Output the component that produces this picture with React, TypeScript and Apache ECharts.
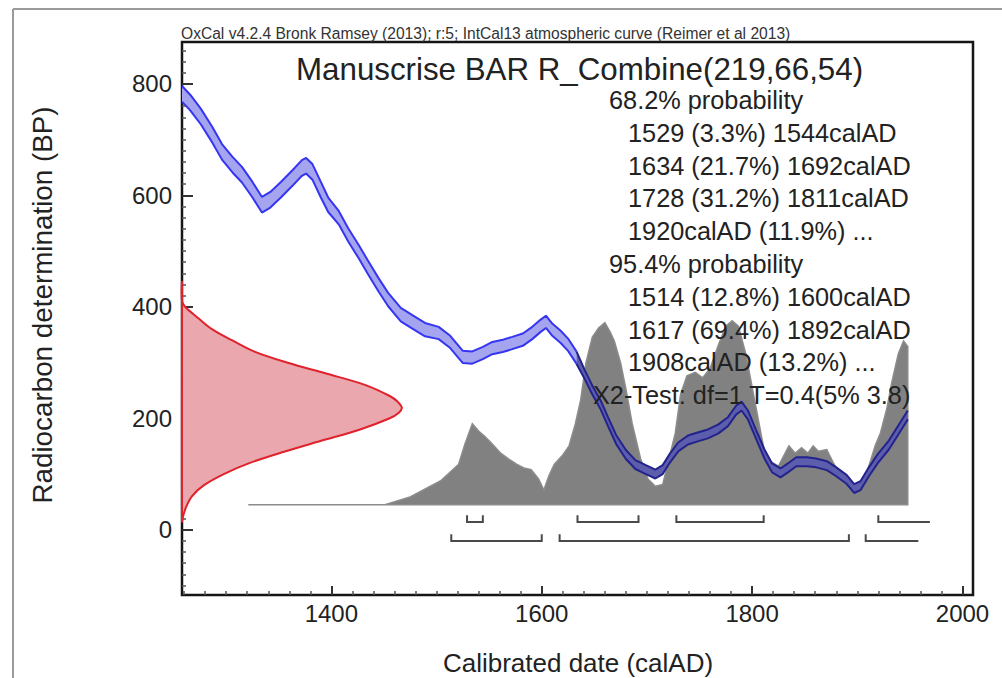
import React, { useEffect, useRef } from "react";
import * as echarts from "echarts";

// ---- axis ranges (calAD, BP) ----
const xMin = 1258;
const xMax = 2010;
const yMin = -117;
const yMax = 875;
const xMajorTicks = [1400, 1600, 1800, 2000];
const yMajorTicks = [0, 200, 400, 600, 800];
const xMinorTicks = [1260, 1280, 1300, 1320, 1340, 1360, 1380, 1400, 1420, 1440, 1460, 1480, 1500, 1520, 1540, 1560, 1580, 1600, 1620, 1640, 1660, 1680, 1700, 1720, 1740, 1760, 1780, 1800, 1820, 1840, 1860, 1880, 1900, 1920, 1940, 1960, 1980, 2000];
const yMinorTicks = [-100, -80, -60, -40, -20, 0, 20, 40, 60, 80, 100, 120, 140, 160, 180, 200, 220, 240, 260, 280, 300, 320, 340, 360, 380, 400, 420, 440, 460, 480, 500, 520, 540, 560, 580, 600, 620, 640, 660, 680, 700, 720, 740, 760, 780, 800, 820, 840, 860];

// ---- IntCal13 calibration curve ----
const curveYears = [1258, 1266, 1276, 1287, 1296, 1306, 1315, 1325, 1334, 1342, 1352, 1363, 1372, 1376, 1382, 1390, 1397, 1407, 1416, 1426, 1435, 1445, 1454, 1466, 1477, 1489, 1502, 1513, 1525, 1534, 1544, 1553, 1563, 1572, 1582, 1591, 1599, 1604, 1610, 1618, 1625, 1633, 1641, 1648, 1656, 1663, 1671, 1680, 1689, 1699, 1708, 1715, 1722, 1730, 1739, 1749, 1758, 1768, 1777, 1785, 1790, 1796, 1804, 1812, 1819, 1827, 1834, 1842, 1852, 1861, 1871, 1880, 1890, 1897, 1903, 1911, 1920, 1930, 1939, 1948];
const curveBP = [782, 766, 741, 708, 678, 655, 637, 610, 583, 592, 610, 631, 649, 653, 642, 610, 583, 560, 529, 499, 470, 439, 413, 386, 373, 359, 353, 337, 310, 309, 317, 326, 330, 335, 341, 353, 366, 373, 359, 346, 332, 309, 278, 251, 224, 194, 161, 135, 117, 108, 100, 108, 129, 149, 161, 167, 172, 181, 194, 215, 222, 206, 170, 135, 111, 102, 111, 122, 122, 120, 115, 104, 90, 74, 79, 104, 129, 152, 179, 206];
const curveErr = [14, 14, 14, 14, 14, 14, 14, 14, 14, 14, 14, 14, 14, 14, 14, 14, 13, 12, 12, 12, 12, 12, 12, 12, 12, 12, 11, 11, 11, 11, 11, 11, 11, 11, 11, 11, 11, 11, 11, 11, 11, 11, 8, 8, 8, 8, 8, 8, 8, 8, 8, 8, 8, 8, 8, 8, 8, 8, 8, 8, 8, 8, 8, 8, 8, 8, 8, 8, 8, 8, 8, 8, 8, 8, 8, 8, 8, 8, 8, 8];
const darkFromYear = 1633;

// ---- measured radiocarbon date (R_Combine 219) ----
const redBP = [443, 410, 400, 380, 360, 340, 320, 300, 280, 260, 240, 230, 219, 210, 200, 180, 160, 140, 120, 100, 80, 60, 40, 20, 15];
const redDensity = [0, 0, 0.014, 0.073, 0.136, 0.227, 0.327, 0.477, 0.659, 0.832, 0.945, 0.98, 1, 0.986, 0.945, 0.81, 0.636, 0.464, 0.309, 0.19, 0.1, 0.045, 0.018, 0.002, 0];

// ---- calibrated probability distribution ----
const grayYears = [1321, 1451, 1474, 1504, 1521, 1527, 1534, 1540, 1546, 1553, 1561, 1568, 1576, 1583, 1590, 1597, 1602, 1607, 1612, 1620, 1626, 1632, 1637, 1642, 1648, 1654, 1660, 1665, 1669, 1675, 1680, 1686, 1694, 1701, 1708, 1715, 1721, 1727, 1732, 1738, 1746, 1753, 1760, 1768, 1775, 1781, 1787, 1794, 1799, 1807, 1813, 1825, 1835, 1841, 1847, 1853, 1858, 1863, 1871, 1877, 1883, 1889, 1895, 1901, 1907, 1911, 1917, 1922, 1928, 1933, 1939, 1944, 1948];
const grayProb = [0, 0, 0.04, 0.13, 0.22, 0.33, 0.44, 0.40, 0.37, 0.33, 0.28, 0.25, 0.22, 0.20, 0.19, 0.14, 0.08, 0.16, 0.22, 0.27, 0.32, 0.44, 0.57, 0.77, 0.91, 0.96, 0.99, 0.94, 0.89, 0.77, 0.63, 0.44, 0.25, 0.14, 0.10, 0.11, 0.25, 0.39, 0.60, 0.70, 0.72, 0.69, 0.74, 0.87, 0.97, 1.0, 0.97, 0.82, 0.67, 0.43, 0.25, 0.21, 0.32, 0.28, 0.31, 0.28, 0.32, 0.29, 0.30, 0.23, 0.17, 0.12, 0.08, 0.07, 0.14, 0.21, 0.32, 0.39, 0.52, 0.67, 0.82, 0.89, 0.86];

// ---- ranges: [from, to, closed end] ----
const ranges68 = [[1529, 1544, 1], [1634, 1692, 1], [1728, 1811, 1], [1920, 1969, 0]];
const ranges95 = [[1514, 1600, 1], [1617, 1892, 1], [1908, 1958, 0]];

// ---- texts ----
const headerText = "OxCal v4.2.4 Bronk Ramsey (2013); r:5; IntCal13 atmospheric curve (Reimer et al 2013)";
const titleText = "Manuscrise BAR R_Combine(219,66,54)";
const resultLines = [
  "68.2% probability",
  "  1529 (3.3%) 1544calAD",
  "  1634 (21.7%) 1692calAD",
  "  1728 (31.2%) 1811calAD",
  "  1920calAD (11.9%) ...",
  "95.4% probability",
  "  1514 (12.8%) 1600calAD",
  "  1617 (69.4%) 1892calAD",
  "  1908calAD (13.2%) ...",
  "X2-Test: df=1 T=0.4(5% 3.8)",
];
const xTitle = "Calibrated date (calAD)";
const yTitle = "Radiocarbon determination (BP)";

// layout constants
const GRAY_BASE = 45;
const GRAY_HEIGHT = 330;
const RED_WIDTH = 209;
const FONT = "'Liberation Sans', Arial, sans-serif";

export default function App() {
  const ref = useRef<HTMLDivElement>(null);
  useEffect(() => {
    if (!ref.current) return;
    const chart = echarts.init(ref.current, undefined, { renderer: "svg" });

    const splitIdx = curveYears.findIndex((y) => y >= darkFromYear);
    const upper = curveYears.map((y, i) => [y, curveBP[i] + curveErr[i]]);
    const lower = curveYears.map((y, i) => [y, curveBP[i] - curveErr[i]]);
    const segs = [
      { from: 0, to: splitIdx + 1, line: "#3535f2", fill: "#a4a4ef" },
      { from: splitIdx, to: curveYears.length, line: "#23238c", fill: "#5d5dae" },
    ];

    const series: any[] = [];

    // gray calibrated distribution
    series.push({
      type: "custom",
      silent: true,
      clip: false,
      z: 1,
      data: [[xMin, 0]],
      renderItem: (_p: any, api: any) => {
        const pts = grayYears.map((y, i) => api.coord([y, GRAY_BASE + grayProb[i] * GRAY_HEIGHT]));
        pts.push(api.coord([grayYears[grayYears.length - 1], GRAY_BASE]));
        pts.push(api.coord([grayYears[0], GRAY_BASE]));
        return {
          type: "polygon",
          shape: { points: pts },
          style: { fill: "#818181", stroke: "#8c8c8c", lineWidth: 1.5 },
        };
      },
    });

    // red radiocarbon date
    series.push({
      type: "custom",
      silent: true,
      clip: false,
      z: 2,
      data: [[xMin, 0]],
      renderItem: (_p: any, api: any) => {
        const pts = redBP.map((b, i) => api.coord([xMin + redDensity[i] * RED_WIDTH, b]));
        return {
          type: "polygon",
          shape: { points: pts, smooth: 0.35 },
          style: { fill: "#eaa7ad", stroke: "#e0222c", lineWidth: 2 },
        };
      },
    });

    // blue calibration band
    segs.forEach((s, k) => {
      series.push({
        type: "custom",
        silent: true,
        clip: false,
        z: 3,
        data: [[xMin, 0]],
        renderItem: (_p: any, api: any) => {
          const up = upper.slice(s.from, s.to).map((d) => api.coord(d));
          const lo = lower.slice(s.from, s.to).map((d) => api.coord(d)).reverse();
          return {
            type: "polygon",
            shape: { points: up.concat(lo) },
            style: { fill: s.fill, stroke: "none" },
          };
        },
      });
      [upper, lower].forEach((arr, j) => {
        series.push({
          type: "line",
          name: `curve${k}${j}`,
          data: arr.slice(s.from, s.to),
          symbol: "none",
          z: 4,
          silent: true,
          lineStyle: { color: s.line, width: 2 },
        });
      });
    });

    // range brackets
    const bracketSeries = (ranges: number[][], lineBP: number, topBP: number) => ({
      type: "custom",
      silent: true,
      clip: false,
      z: 5,
      data: [[xMin, 0]],
      renderItem: (_p: any, api: any) => ({
        type: "group",
        children: ranges.map((r) => {
          const pts = [
            api.coord([r[0], topBP]),
            api.coord([r[0], lineBP]),
            api.coord([r[1], lineBP]),
          ];
          if (r[2]) pts.push(api.coord([r[1], topBP]));
          return {
            type: "polyline",
            shape: { points: pts },
            style: { stroke: "#4a4a4a", lineWidth: 2, fill: "none" },
          };
        }),
      }),
    });
    series.push(bracketSeries(ranges68, 14, 26));
    series.push(bracketSeries(ranges95, -20, -8));

    const textEls: any[] = [];
    textEls.push({
      type: "text",
      x: 181,
      y: 33,
      style: { text: headerText, font: `15.6px ${FONT}`, fill: "#333", textVerticalAlign: "middle" },
    });
    textEls.push({
      type: "text",
      x: 296,
      y: 69,
      style: { text: titleText, font: `31.3px ${FONT}`, fill: "#222", textVerticalAlign: "middle" },
    });
    resultLines.forEach((t, i) => {
      const isX2 = t.startsWith("X2");
      const indent = t.startsWith("  ");
      textEls.push({
        type: "text",
        x: isX2 ? 593 : indent ? 628 : 609,
        y: 100 + i * 32.8,
        z: 100,
        style: { text: t.trim(), font: `25.3px ${FONT}`, fill: "#222", textVerticalAlign: "middle" },
      });
    });
    textEls.push({
      type: "text",
      x: 578,
      y: 663,
      style: { text: xTitle, font: `26px ${FONT}`, fill: "#222", textAlign: "center", textVerticalAlign: "middle" },
    });
    textEls.push({
      type: "text",
      x: 42,
      y: 305,
      rotation: Math.PI / 2,
      style: { text: yTitle, font: `27.8px ${FONT}`, fill: "#222", textAlign: "center", textVerticalAlign: "middle" },
    });
    // page frame
    textEls.push({ type: "line", shape: { x1: 13, y1: 9, x2: 1002, y2: 9 }, style: { stroke: "#9a9a9a", lineWidth: 2 } });
    textEls.push({ type: "line", shape: { x1: 13, y1: 9, x2: 13, y2: 678 }, style: { stroke: "#9a9a9a", lineWidth: 2 } });

    const labelStyle = { fontSize: 24, fontFamily: FONT, color: "#222", formatter: (v: number) => String(v) };

    chart.setOption({
      animation: false,
      backgroundColor: "#fff",
      grid: {
        left: 182,
        right: 29,
        top: 42,
        bottom: 83,
        show: true,
        borderColor: "#151515",
        borderWidth: 2.5,
        backgroundColor: "transparent",
      },
      xAxis: [
        {
          type: "value",
          min: xMin,
          max: xMax,
          position: "bottom",
          axisLine: { show: false, onZero: false },
          splitLine: { show: false },
          axisTick: { show: true, inside: true, length: 4, customValues: xMinorTicks, lineStyle: { color: "#555", width: 1.5 } },
          axisLabel: { show: true, customValues: xMajorTicks, margin: 6, ...labelStyle },
        },
        {
          type: "value",
          min: xMin,
          max: xMax,
          position: "bottom",
          offset: 0,
          axisLine: { show: false, onZero: false },
          splitLine: { show: false },
          axisTick: { show: true, inside: true, length: 9, customValues: xMajorTicks, lineStyle: { color: "#333", width: 2 } },
          axisLabel: { show: false },
        },
      ],
      yAxis: [
        {
          type: "value",
          min: yMin,
          max: yMax,
          position: "left",
          axisLine: { show: false, onZero: false },
          splitLine: { show: false },
          axisTick: { show: true, inside: true, length: 4, customValues: yMinorTicks, lineStyle: { color: "#555", width: 1.5 } },
          axisLabel: { show: true, customValues: yMajorTicks, margin: 10, ...labelStyle },
        },
        {
          type: "value",
          min: yMin,
          max: yMax,
          position: "left",
          offset: 0,
          axisLine: { show: false, onZero: false },
          splitLine: { show: false },
          axisTick: { show: true, inside: true, length: 11, customValues: yMajorTicks, lineStyle: { color: "#333", width: 2 } },
          axisLabel: { show: false },
        },
      ],
      series,
      graphic: { elements: textEls },
    });
    return () => chart.dispose();
  }, []);

  return (
    <div
      ref={ref}
      style={{ position: "fixed", left: 0, top: 0, width: 1002, height: 678, background: "#fff" }}
    />
  );
}
